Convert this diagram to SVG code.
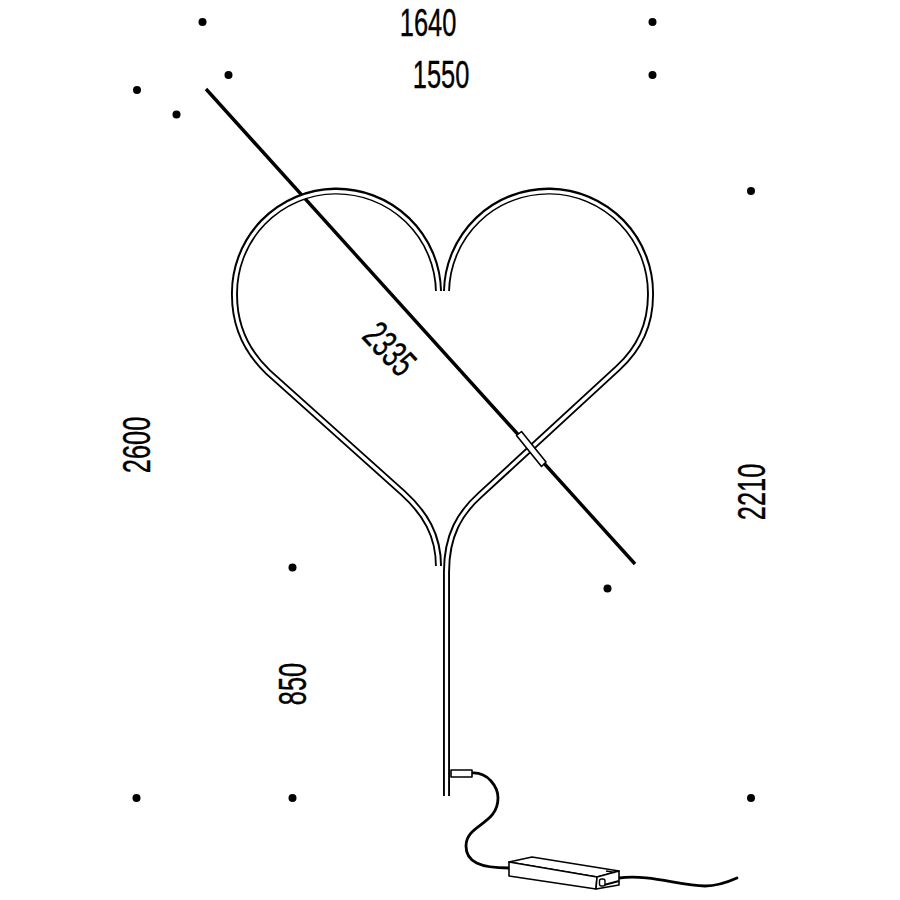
<svg xmlns="http://www.w3.org/2000/svg" width="900" height="900" viewBox="0 0 900 900">
<style>
.dot{fill:#000}
.t{font-family:"Liberation Sans",Arial,sans-serif;font-size:38.5px;fill:#000;stroke:#000;stroke-width:.4;text-anchor:middle}
.to{fill:none;stroke:#000;stroke-width:7}
.ti{fill:none;stroke:#fff;stroke-width:3.2}
.c{fill:none;stroke:#000;stroke-width:2.8;stroke-linecap:round}
.b{fill:#fff;stroke:#000;stroke-width:1.6;stroke-linejoin:round}
</style>
<rect width="900" height="900" fill="#fff"/>
<g id="connectors">
<path id="rod" d="M206,89L635,564" fill="none" stroke="#000" stroke-width="3.4"/>
<path class="c" d="M472,773C488,772 498,787 498,798C498,825 466,824 466,846C466,862 480,868 509,868"/>
<path class="c" d="M619,878C650,874 680,886 705,886C718,886 728,882 737,878"/>
</g>
<g id="heart">
<path class="to" d="M438.500,291A102,102 0 0 0 234.500,295C234.500,325 245,350 268,372L403,493C425,513 438.500,535 438.500,566"/>
<path class="to" d="M446.500,291A102,102 0 0 1 650.500,295C650.500,325 640,348 618,368L480,495C460,513 446.500,535 446.500,572L446.500,796"/>
<path class="ti" d="M438.500,292A102,102 0 0 0 234.500,295C234.500,325 245,350 268,372L403,493C425,513 438.500,535 438.500,567"/>
<path class="ti" d="M446.500,292A102,102 0 0 1 650.500,295C650.500,325 640,348 618,368L480,495C460,513 446.500,535 446.500,572L446.500,797"/>
</g>
<g id="sleeve"><path class="b" stroke-width="2" d="M516.500,435.500L521.500,431.500L546,462L541.500,466.500Z"/></g>
<g id="plug"><rect class="b" x="451" y="770" width="21" height="7"/></g>
<g id="driver">
<path class="b" d="M509,862L532,857L619,871L597,877Z"/>
<path class="b" d="M509,862L509,876L596,889L597,877Z"/>
<path class="b" d="M597,877L619,871L619,885L596,889Z"/>
<path d="M604,885L619,881" fill="none" stroke="#000" stroke-width="2"/>
<rect x="599.500" y="879" width="5.500" height="7" rx="2" fill="#fff" stroke="#000" stroke-width="1.4"/>
<path d="M606,871L615,872.500" fill="none" stroke="#000" stroke-width="1.400"/>
</g>
<g id="dots">
<circle class="dot" cx="202.500" cy="22" r="4"/>
<circle class="dot" cx="652.500" cy="22" r="4"/>
<circle class="dot" cx="228.500" cy="75" r="4"/>
<circle class="dot" cx="652.500" cy="75" r="4"/>
<circle class="dot" cx="137" cy="90" r="4"/>
<circle class="dot" cx="176.500" cy="114.500" r="4"/>
<circle class="dot" cx="751" cy="191" r="4"/>
<circle class="dot" cx="292.500" cy="567.500" r="4"/>
<circle class="dot" cx="607.500" cy="588.500" r="4"/>
<circle class="dot" cx="136.500" cy="798" r="4"/>
<circle class="dot" cx="292.500" cy="798" r="4"/>
<circle class="dot" cx="751" cy="798" r="4"/>
</g>
<g id="labels">
<text class="t" transform="translate(428,36) scale(.66,1)">1640</text>
<text class="t" transform="translate(441,88) scale(.66,1)">1550</text>
<text class="t" transform="translate(150,445) rotate(-90) scale(.66,1)">2600</text>
<text class="t" transform="translate(765,492) rotate(-90) scale(.66,1)">2210</text>
<text class="t" transform="translate(306,684) rotate(-90) scale(.66,1)">850</text>
<text class="t" transform="translate(380,358) rotate(47) scale(.66,1)">2335</text>
</g>
</svg>
